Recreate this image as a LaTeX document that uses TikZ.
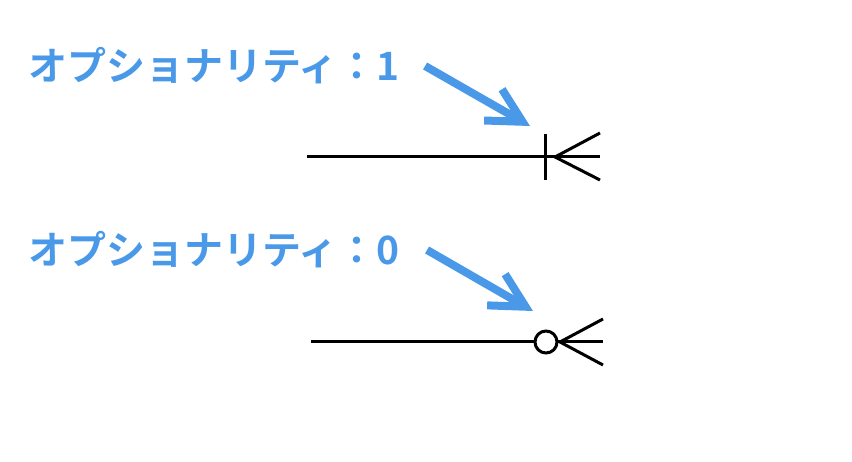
\documentclass[tikz,border=0pt]{standalone}
\usepackage{fontspec}
\usepackage{tikz}
\usetikzlibrary{arrows.meta}
\newfontfamily\jpfont{Noto Sans CJK JP}[BoldFont={Noto Sans CJK JP Bold}]
\definecolor{optblue}{RGB}{74,153,232}

\begin{document}
\begin{tikzpicture}[x=1pt, y=-1pt,
		optlabel/.style={font=\jpfont\bfseries\fontsize{39}{42}\selectfont, text=optblue, anchor=west, inner sep=0pt},
		pointer/.style={optblue, line width=8pt, -{Straight Barb[length=34pt, width=36pt, sharp]}},
		rel/.style={line width=3pt}]
		\useasboundingbox (0,0) rectangle (852,462);

		% optionality 1
		\node[optlabel] (opt1) at (28,66) {オプショナリティ：1};
		\coordinate (tip1) at (530,126);
		\draw[pointer] ([xshift=25pt]opt1.east) -- (tip1);
		\coordinate (left1) at (307,157);
		\coordinate (right1) at (600,157);
		\draw[rel] (left1) -- (right1);
		\draw[rel] (545,134) -- (545,180);
		\draw[rel] (600,133) -- (555,157) -- (600,180);

		% optionality 0
		\node[optlabel] (opt0) at (28,250) {オプショナリティ：0};
		\coordinate (tip0) at (533,311);
		\draw[pointer] ([xshift=27pt]opt0.east) -- (tip0);
		\coordinate (left0) at (311,342);
		\coordinate (right0) at (603,342);
		\draw[rel] (left0) -- (right0);
		\draw[rel] (603,319) -- (560,342) -- (603,365);
		\draw[rel, fill=white] (546,342) circle (11);
	\end{tikzpicture}
\end{document}
